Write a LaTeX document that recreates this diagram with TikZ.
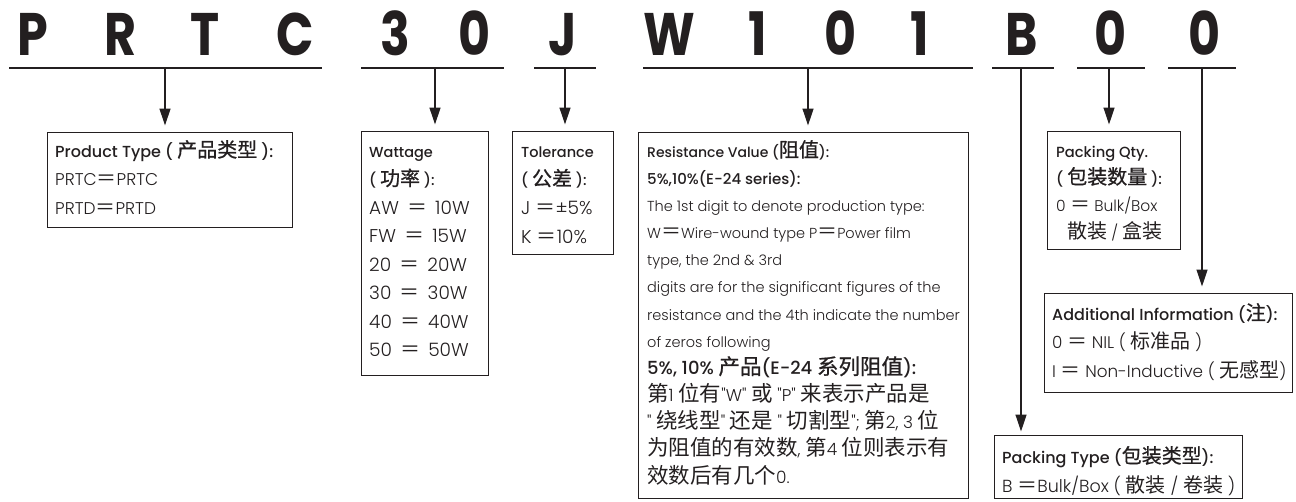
\documentclass[tikz,border=0pt]{standalone}
\usepackage{fontspec}
\usetikzlibrary{arrows.meta}
\setmainfont{Poppins}
\newfontfamily\lt{Poppins}[UprightFont={* Light}, BoldFont={* Medium}]
\newfontfamily\heavy{Poppins}[UprightFont={* Bold}, FakeStretch=0.82]
\newfontfamily\cjk{Noto Sans CJK SC}[BoldFont={*}, BoldFeatures={FakeBold=0.8}]
\newcommand\fs[1]{\fontsize{#1}{#1}\selectfont}
\newcommand\zh[1]{{\cjk\fs{20}#1}}
\newcommand\zhb[1]{{\cjk\fs{21.5}#1}}
\newcommand\eq{{\cjk\fs{20}＝}}
\newcommand\hd{\bfseries}
\newcommand\stk[2]{\vtop{\baselineskip=#1\lineskiplimit=-100pt\lineskip=0pt\halign{##\hfil\cr#2\crcr}}}
\definecolor{ink}{HTML}{231F20}
\begin{document}
\begin{tikzpicture}[x=1pt,y=-1pt,
  code/.style={font=\heavy\fontsize{60}{60}\selectfont, anchor=base, inner sep=0, text=ink},
  uline/.style={line width=1.6pt, draw=ink},
  arr/.style={line width=1.3pt, draw=ink, -{Triangle[length=17pt,width=11pt]}},
  box/.style={draw=ink, line width=1pt, rectangle, inner sep=0},
  txt/.style={anchor=base west, inner sep=0, text=ink, font=\lt\fs{16}},
]
\useasboundingbox (0,0) rectangle (1296,501);
% code letters
\node[code] (l1) at (33,55) {P};
\node[code] (l2) at (121,55) {R};
\node[code] (l3) at (205,55) {T};
\node[code] (l4) at (295,55) {C};
\node[code] (l5) at (395,55) {3};
\node[code] (l6) at (475,55) {0};
\node[code] (l7) at (563,55) {J};
\node[code] (l8) at (669,55) {W};
\node[code] (l9) at (758,55) {1};
\node[code] (l10) at (841,55) {0};
\node[code] (l11) at (920,55) {1};
\node[code] (l12) at (1022,55) {B};
\node[code] (l13) at (1111,55) {0};
\node[code] (l14) at (1205,55) {0};
% underlines
\draw[uline] (9,68) -- (322,68);
\draw[uline] (361,68) -- (504,68);
\draw[uline] (534,68) -- (596,68);
\draw[uline] (643,68) -- (973,68);
\draw[uline] (992,68) -- (1054,68);
\draw[uline] (1077,68) -- (1145,68);
\draw[uline] (1168,68) -- (1236,68);
\coordinate (c1) at (165,68);
\coordinate (c2) at (435,68);
\coordinate (c3) at (565,68);
\coordinate (c4) at (808,68);
\coordinate (c5) at (1021,68);
\coordinate (c6) at (1109,68);
\coordinate (c7) at (1202,68);
% boxes
\node[box, minimum width=245pt, minimum height=95pt] (ptype) at (169.5,179.5) {};
\node[box, minimum width=127pt, minimum height=244pt] (watt) at (424.5,253) {};
\node[box, minimum width=101pt, minimum height=123pt] (tol) at (562.5,192.5) {};
\node[box, minimum width=330pt, minimum height=366pt] (res) at (803,315) {};
\node[box, minimum width=133pt, minimum height=118pt] (pqty) at (1113.5,190) {};
\node[box, minimum width=248pt, minimum height=99pt] (addl) at (1168,342.5) {};
\node[box, minimum width=248pt, minimum height=63pt] (ptype2) at (1118,466.5) {};
% texts
\node[txt, font=\lt\fs{17}] (ptypeT) at (55,157) {\stk{28.5pt}{\hd\fs{16}Product Type ( \zh{产品类型} ):\cr PRTC\eq PRTC\cr PRTD\eq PRTD}};
\node[txt, font=\lt\fs{18.5}] (wattT) at (369,157) {\stk{28.57pt}{\hd\fs{14.5}Wattage\cr \hd\fs{14.5}( \zh{功率} ):\cr AW \,\eq\, 10W\cr FW \,\eq\, 15W\cr 20 \,\eq\, 20W\cr 30 \,\eq\, 30W\cr 40 \,\eq\, 40W\cr 50 \,\eq\, 50W}};
\node[txt, font=\lt\fs{18.5}] (tolT) at (521,157) {\stk{28.7pt}{\hd\fs{14.5}Tolerance\cr \hd\fs{14.5}( \zh{公差} ):\cr J \eq±5\%\cr K \eq 10\%}};
\node[txt, font=\lt\fs{14.5}] (resT) at (647,157) {\stk{27.17pt}{%
\hd\fs{14}Resistance Value (\zh{阻值}):\cr
\hd\fs{15}5\%,10\%(E-24 series):\cr
The 1st digit to denote production type:\cr
W\eq Wire-wound type P\eq Power film\cr
type, the 2nd \& 3rd\cr
digits are for the significant figures of the\cr
resistance and the 4th indicate the number\cr
of zeros following\cr
\hd\fs{18}5\%, 10\% \zhb{产品}(E-24 \zhb{系列阻值}):\cr
\fs{17}\zhb{第}1 \zhb{位有}"W" \zhb{或} "P" \zhb{来表示产品是}\cr
\fs{17}" \zhb{绕线型}" \zhb{还是} " \zhb{切割型}"; \zhb{第}2, 3 \zhb{位}\cr
\fs{17}\zhb{为阻值的有效数}, \zhb{第}4 \zhb{位则表示有}\cr
\fs{17}\zhb{效数后有几个}0.}};
\node[txt, font=\lt\fs{15.5}] (pqtyT) at (1056,157) {\stk{27pt}{\hd\fs{14.7}Packing Qty.\cr \hd\fs{14.7}( \zh{包装数量} ):\cr 0 \eq{} Bulk/Box\cr \hspace*{11pt}\zh{散装} / \zh{盒装}}};
\node[txt, font=\lt\fs{16.8}] (addlT) at (1052,320) {\stk{28.5pt}{\hd\fs{16}Additional Information (\zh{注}):\cr 0 \eq{} NIL ( \zh{标准品} )\cr I \eq{} Non-Inductive ( \zh{无感型})}};
\node[txt, font=\lt\fs{17.5}] (ptype2T) at (1002,463) {\stk{29pt}{\hd\fs{16}Packing Type (\zh{包装类型}):\cr B \eq Bulk/Box ( \zh{散装} / \zh{卷装} )}};
% arrows
\draw[arr, shorten >=6pt] (c1) -- (c1 |- ptype.north);
\draw[arr, shorten >=6pt] (c2) -- (c2 |- watt.north);
\draw[arr, shorten >=6pt] (c3) -- (c3 |- tol.north);
\draw[arr, shorten >=6pt] (c4) -- (c4 |- res.north);
\draw[arr, shorten >=3pt] (c5) -- (c5 |- ptype2.north);
\draw[arr, shorten >=6pt] (c6) -- (c6 |- pqty.north);
\draw[arr, shorten >=6pt] (c7) -- (c7 |- addl.north);
\end{tikzpicture}
\end{document}
